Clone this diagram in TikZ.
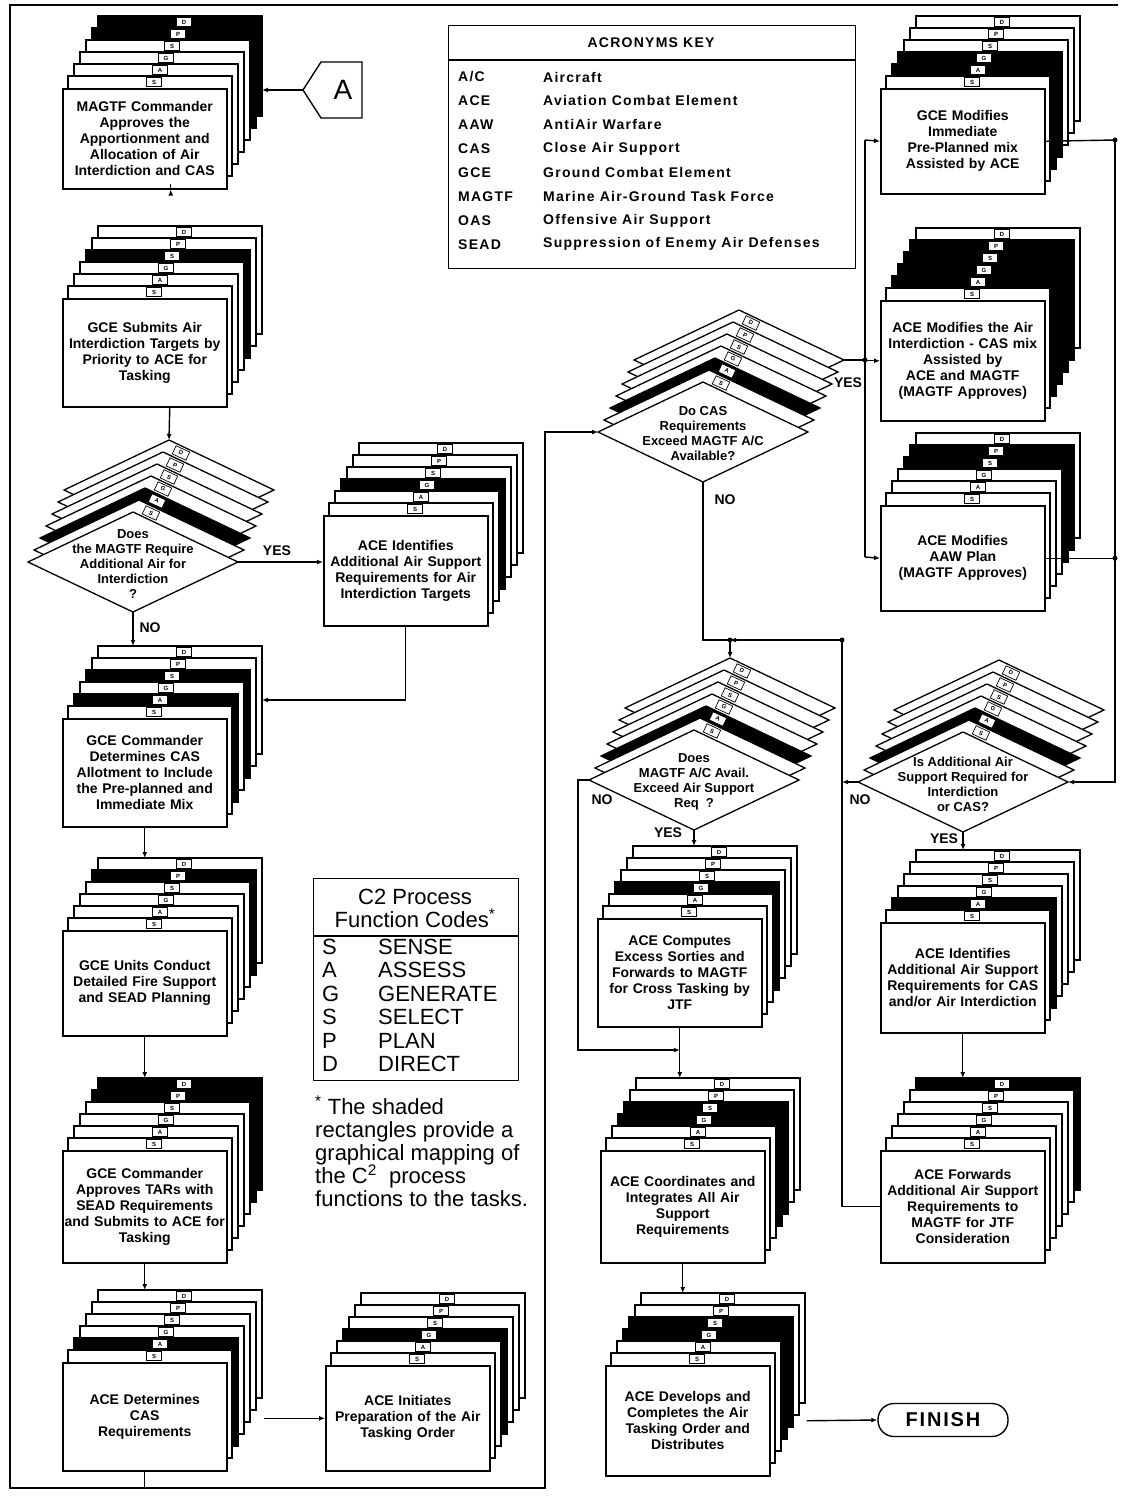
\documentclass[tikz,border=0pt]{standalone}
\usepackage{fontspec}
\setmainfont{Liberation Sans}
\newfontfamily\keyfont[LetterSpace=9]{Liberation Sans}
\usetikzlibrary{arrows.meta,calc}
\tikzset{
  lw/.style={line width=1.4pt},
  layer/.style={draw, line width=1.3pt},
  tab/.style={draw, fill=white, line width=0.7pt, inner sep=0pt, minimum width=15pt, minimum height=9pt, font=\bfseries\fontsize{6}{6}\selectfont},
  front/.style={draw, fill=white, line width=1.5pt, minimum width=164pt, text width=162pt, align=center, inner sep=0pt, font=\bfseries\fontsize{14}{16}\selectfont},
  dtext/.style={align=center, inner sep=0pt, font=\bfseries\fontsize{13}{15}\selectfont},
  conn/.style={line width=1.4pt, -{Latex[length=6pt,width=5pt]}},
  wire/.style={line width=1.4pt},
  lbl/.style={inner sep=1pt, font=\bfseries\fontsize{14}{14}\selectfont},
  jdot/.style={circle, fill, inner sep=0pt, minimum size=5pt},
  keyt/.style={inner sep=0pt, anchor=west, font=\keyfont\bfseries\fontsize{14}{14}\selectfont},
  ctext/.style={inner sep=0pt, anchor=west, font=\fontsize{22}{22}\selectfont},
}
\newcommand\card[6]{%
  \foreach \ly in {6,5,4,3,2,1}{%
    \gdef\lc{white}%
    \foreach \bl in {#5}{\ifnum\bl=\ly\relax\gdef\lc{black}\fi}%
    \draw[layer, fill=\lc] ({#2+6*\ly},{#3-12*\ly}) rectangle ++(164,#4);
    \node[tab] (#1-t\ly) at ({#2+6*\ly+86},{#3-12*\ly+6}) {\ifcase\ly\or S\or A\or G\or S\or P\or D\fi};
  }%
  \node[front, minimum height=#4, anchor=north west] (#1) at (#2,#3) {#6};
  \coordinate (#1-top) at ({#2+36},{#3-72});
}
\newcommand\dmd[4]{%
  \foreach \ly in {6,5,4,3,2,1}{%
    \ifnum\ly=2 \gdef\lc{black}\else\gdef\lc{white}\fi
    \draw[layer, fill=\lc] ({#2-105+6*\ly},{#3-12*\ly}) -- ++(105,-50) -- ++(105,50) -- ++(-105,50) -- cycle;
    \node[tab, rotate=-25] (#1-t\ly) at ({#2+6*\ly+12},{#3-12*\ly-50+13}) {\ifcase\ly\or S\or A\or G\or S\or P\or D\fi};
  }%
  \draw[layer, fill=white] ({#2-105},#3) -- ++(105,-50) -- ++(105,50) -- ++(-105,50) -- cycle;
  \node[dtext] (#1) at (#2,{#3+2}) {#4};
  \coordinate (#1-l) at ({#2-105},#3);
  \coordinate (#1-r) at ({#2+105},#3);
  \coordinate (#1-b) at (#2,{#3+50});
  \coordinate (#1-top) at ({#2+36},{#3-122});
  \coordinate (#1-rt) at ({#2+141},{#3-72});
}
\begin{document}
\begin{tikzpicture}[x=1pt,y=-1pt]
\fill[white] (0,0) rectangle (1126,1496);
\useasboundingbox (0,0) rectangle (1126,1496);

% ---------- cards and decisions ----------
\card{c1}{62}{88}{100}{5,6}{MAGTF Commander\\Approves the\\Apportionment and\\Allocation of Air\\Interdiction and CAS}
\card{c2}{62}{298}{108}{4}{GCE Submits Air\\Interdiction Targets by\\Priority to ACE for\\Tasking}
\dmd{d3}{133}{562}{Does\\the MAGTF Require\\Additional Air for\\Interdiction\\?}
\card{c4}{323}{515}{110}{3}{ACE Identifies\\Additional Air Support\\Requirements for Air\\Interdiction Targets}
\card{c5}{62}{718}{108}{2,4}{GCE Commander\\Determines CAS\\Allotment to Include\\the Pre-planned and\\Immediate Mix}
\card{c6}{62}{930}{105}{5}{GCE Units Conduct\\Detailed Fire Support\\and SEAD Planning}
\card{c7}{62}{1150}{112}{5,6}{GCE Commander\\Approves TARs with\\SEAD Requirements\\and Submits to ACE for\\Tasking}
\card{c8}{62}{1362}{108}{2}{ACE Determines\\CAS\\Requirements}
\card{c9}{325}{1365}{105}{3}{ACE Initiates\\Preparation of the Air\\Tasking Order}
\card{c10}{880}{88}{105}{2,3}{GCE Modifies\\Immediate\\Pre-Planned mix\\Assisted by ACE}
\card{c11}{880}{300}{120}{2,3,4,5}{ACE Modifies the Air\\Interdiction - CAS mix\\Assisted by\\ACE and MAGTF\\(MAGTF Approves)}
\card{c12}{880}{505}{105}{4,5}{ACE Modifies\\AAW Plan\\(MAGTF Approves)}
\dmd{d13}{703}{432}{Do CAS\\Requirements\\Exceed MAGTF A/C\\Available?}
\dmd{d14}{694}{780}{Does\\MAGTF A/C Avail.\\Exceed Air Support\\Req\ \ ?}
\dmd{d15}{963}{782}{Is Additional Air\\Support Required for\\Interdiction\\or CAS?}
\card{c16}{597}{918}{108}{3}{ACE Computes\\Excess Sorties and\\Forwards to MAGTF\\for Cross Tasking by\\JTF}
\card{c17}{880}{922}{110}{2}{ACE Identifies\\Additional Air Support\\Requirements for CAS\\and/or Air Interdiction}
\card{c18}{600}{1150}{112}{3,4}{ACE Coordinates and\\Integrates All Air\\Support\\Requirements}
\card{c19}{880}{1150}{112}{6}{ACE Forwards\\Additional Air Support\\Requirements to\\MAGTF for JTF\\Consideration}
\card{c20}{605}{1365}{110}{3,4}{ACE Develops and\\Completes the Air\\Tasking Order and\\Distributes}

% ---------- terminators ----------
\draw[lw, fill=white] (303,90) -- (321,62) -- (362,62) -- (362,118) -- (321,118) -- cycle;
\node[inner sep=0pt, font=\fontsize{28}{28}\selectfont] (pA) at (343,90) {A};
\coordinate (pA-tip) at (303,90);
\node[draw, lw, rounded corners=16pt, minimum width=130pt, minimum height=33pt, inner sep=0pt,
      font=\keyfont\bfseries\fontsize{20}{20}\selectfont] (finish) at (943,1420) {FINISH};

% ---------- acronyms key ----------
\node[draw, lw, minimum width=407pt, minimum height=243pt, anchor=north west, inner sep=0pt] (key) at (448,25) {};
\draw[lw] ($(key.north west)+(0,35)$) -- ($(key.north east)+(0,35)$);
\node[keyt, anchor=center] (keytitle) at (651,43) {ACRONYMS KEY};
\foreach \i/\kab/\kmn in {0/{A/C}/Aircraft,1/ACE/Aviation Combat Element,2/AAW/AntiAir Warfare,3/CAS/Close Air Support,4/GCE/Ground Combat Element,5/MAGTF/Marine Air-Ground Task Force,6/OAS/Offensive Air Support,7/SEAD/Suppression of Enemy Air Defenses}{
  \node[keyt] (ka\i) at (458,{77+23.9*\i}) {\kab};
  \node[keyt] (kb\i) at (543,{77+23.9*\i}) {\kmn};
}

% ---------- C2 codes box ----------
\node[draw, lw, minimum width=205pt, minimum height=202pt, anchor=north west, inner sep=0pt] (cbox) at (313,878) {};
\draw[lw] ($(cbox.north west)+(0,58)$) -- ($(cbox.north east)+(0,58)$);
\node[inner sep=0pt, align=center, font=\fontsize{22}{23}\selectfont] (chead) at (415,908) {C2 Process\\Function Codes\textsuperscript{*}};
\foreach \i/\clet/\cword in {0/S/SENSE,1/A/ASSESS,2/G/GENERATE,3/S/SELECT,4/P/PLAN,5/D/DIRECT}{
  \node[ctext] (cl\i) at (322,{947+23.4*\i}) {\clet};
  \node[ctext] (cw\i) at (378,{947+23.4*\i}) {\cword};
}
\node[anchor=north west, align=left, inner sep=0pt, font=\fontsize{22}{23}\selectfont] (fnote) at (315,1096)
  {\textsuperscript{*} The shaded\\rectangles provide a\\graphical mapping of\\the C\textsuperscript{2}\ \ process\\functions to the tasks.};

% ---------- frame ----------
\coordinate (br) at (545,1488);
\draw[wire] (1118,5) -- (10,5) -- (10,1488) -- (br);

% ---------- connectors: left column ----------
\draw[conn] (pA-tip) -- ($(c1-top)+(164,74)$);
\draw[conn] ($(c1.south)+(26,0)$) -- ($(c1.south)+(26,0)$ |- c2-top);
\draw[conn] ($(c2.south)+(25,0)$) -- (d3-top);
\draw[conn] (d3-r) -- (d3-r -| c4.west);
\node[lbl] (yes3) at (277,551) {YES};
\draw[conn] (d3-b) -- (d3-b |- c5-top);
\node[lbl] (no3) at (150,628) {NO};
\draw[conn] (c4.south) |- ($(c5-top)+(164,54)$);
\draw[conn] (c5.south) -- (c5.south |- c6-top);
\draw[conn] (c6.south) -- (c6.south |- c7-top);
\draw[conn] (c7.south) -- (c7.south |- c8-top);
\draw[conn] ($(c8.east |- c9.west)+(36,0)$) -- (c9.west);
\draw[conn] (c8.south) |- (br) |- (d13-l);

% ---------- connectors: right part ----------
\coordinate (lb1) at (865,140);
\coordinate (lb2) at (865,557);
\draw[wire] (lb1) -- (lb2);
\draw[wire] (d13-rt) -- (d13-rt -| lb1);
\node[jdot] (jy13) at (d13-rt -| lb1) {};
\node[lbl] (yes13) at (848,383) {YES};
\draw[conn] (lb1) -- (c10.west);
\draw[conn] (lb1 |- c11.west) -- (c11.west);
\draw[conn] (lb2) -- (c12.west);

\coordinate (rb1) at (1115,140);
\coordinate (rb2) at (1115,782);
\draw[wire] (c10.east) -- (rb1);
\draw[wire] (c12.east) -- (c12.east -| rb1);
\node[jdot] (jr1) at (rb1) {};
\node[jdot] (jr2) at (c12.east -| rb1) {};
\draw[conn] (rb1) -- (rb2) -- (d15-r);

\coordinate (j1) at (730,640);
\coordinate (lv) at (842,640);
\draw[wire] (d13-b) |- (j1);
\node[lbl] (no13) at (725,500) {NO};
\draw[conn] (c19.west) -| (lv) -- (j1);
\node[jdot] (jlv) at (lv) {};
\node[jdot] (jj1) at (j1) {};
\draw[conn] (j1) -- (d14-top);
\draw[conn] (d15-l) -- (d15-l -| lv);
\node[lbl] (no15) at (860,800) {NO};
\draw[conn] (d15-b) -- (d15-b |- c17-top);
\node[lbl] (yes15) at (944,839) {YES};

\coordinate (j2) at (c16.south |- 0,1050);
\draw[conn] (d14-b) -- (d14-b |- c16-top);
\node[lbl] (yes14) at (668,833) {YES};
\draw[conn] (d14-l) -- ++(-11,0) |- (j2);
\node[lbl] (no14) at (602,800) {NO};
\draw[conn] (c16.south) -- (c16.south |- c18-top);
\draw[conn] (c18.south) -- (c18.south |- c20-top);
\draw[conn] (c17.south) -- (c17.south |- c19-top);
\draw[conn] ($(c20.east)+(36,0)$) -- (finish.west);
\end{tikzpicture}
\end{document}
